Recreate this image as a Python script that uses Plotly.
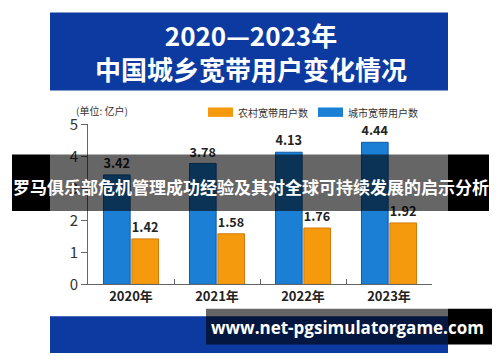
import plotly.graph_objects as go

years = ["2020年", "2021年", "2022年", "2023年"]
city = [3.42, 3.78, 4.13, 4.44]
rural = [1.42, 1.58, 1.76, 1.92]
city_name = "城市宽带用户数"
rural_name = "农村宽带用户数"
title1 = "2020—2023年"
title2 = "中国城乡宽带用户变化情况"
unit_label = "(单位: 亿户)"
banner = "罗马俱乐部危机管理成功经验及其对全球可持续发展的启示分析"
site = "www.net-pgsimulatorgame.com"

# page body has an 8px margin; figure is sized so it fits the 500x362 window
OFF = 8
W, H = 500 - OFF, 362 - OFF
FONT = "Noto Sans CJK SC"
BLUE_BG = "rgb(12,58,160)"
CITY_C = "#1b7fd6"
RURAL_C = "#f59a0c"


def px(x):
    return (x - OFF) / W


def py(y):
    return 1 - (y - OFF) / H


fig = go.Figure()
fig.add_trace(go.Bar(
    x=years, y=city, name=city_name, marker=dict(color=CITY_C, line=dict(color="#0f5aa8", width=1)),
    text=[f"<b>{v:.2f}</b>" for v in city], textposition="outside", cliponaxis=False,
    textfont=dict(family=FONT, size=13, color="#222"), showlegend=False))
fig.add_trace(go.Bar(
    x=years, y=rural, name=rural_name, marker=dict(color=RURAL_C, line=dict(color="#d4780a", width=1)),
    text=[f"<b>{v:.2f}</b>" for v in rural], textposition="outside", cliponaxis=False,
    textfont=dict(family=FONT, size=13, color="#222"), showlegend=False))


def rect(x0, x1, y0, y1, color, layer="above"):
    return dict(type="rect", xref="paper", yref="paper", x0=px(x0), x1=px(x1), y0=py(y1), y1=py(y0),
                fillcolor=color, line=dict(width=0), layer=layer)


shapes = [
    rect(50, 448, 0, 83, BLUE_BG, "below"),
    rect(50, 448, 323, 362, BLUE_BG, "below"),
    rect(208, 233, 101, 111, RURAL_C),
    rect(318, 343, 101, 111, CITY_C),
    rect(12, 50, 151, 211, "black"),
    rect(448, 489, 151, 211, "black"),
    rect(50, 448, 151, 211, "rgba(0,0,0,0.6)"),
    rect(448, 492, 315, 353, "black"),
    rect(206, 448, 315, 353, "rgba(0,0,0,0.6)"),
]


def ann(text, x, y, size, color, xanchor="center", family=FONT):
    return dict(text=text, x=px(x), y=py(y), xref="paper", yref="paper", showarrow=False,
                xanchor=xanchor, yanchor="middle", font=dict(family=family, size=size, color=color))


annotations = [
    ann(f"<b>{title1}</b><br><b>{title2}</b>", 251, 41.5, 26, "white"),
    ann(unit_label, 74, 104, 10, "#333", "left"),
    ann(rural_name, 236, 106, 10, "#333", "left"),
    ann(city_name, 346, 106, 10, "#333", "left"),
    ann(f"<b>{banner}</b>", 251, 185, 17, "white"),
    ann(f"<b>{site}</b>", 347, 335, 17, "white", family="Open Sans"),
]

fig.update_layout(
    width=W, height=H, autosize=False,
    margin=dict(l=0, r=0, t=0, b=0),
    paper_bgcolor="white", plot_bgcolor="rgba(0,0,0,0)",
    barmode="group", bargap=0.34, bargroupgap=0.06,
    shapes=shapes, annotations=annotations,
    font=dict(family=FONT),
    xaxis=dict(domain=[px(88), px(432)], showline=True, linecolor="#666", linewidth=1,
               ticks="inside", tickson="boundaries", ticklen=5, tickcolor="#666",
               tickfont=dict(family=FONT, size=13, color="#222"), showgrid=False, fixedrange=True,
               tickprefix="<b>", ticksuffix="</b>"),
    yaxis=dict(domain=[py(289), py(119)], range=[0, 5], dtick=1, showline=True, linecolor="#666",
               linewidth=1, ticks="outside", ticklen=6, tickcolor="#666", showgrid=False, zeroline=False,
               tickfont=dict(family=FONT, size=15, color="#333"), fixedrange=True),
)

fig.write_html("out.html")
